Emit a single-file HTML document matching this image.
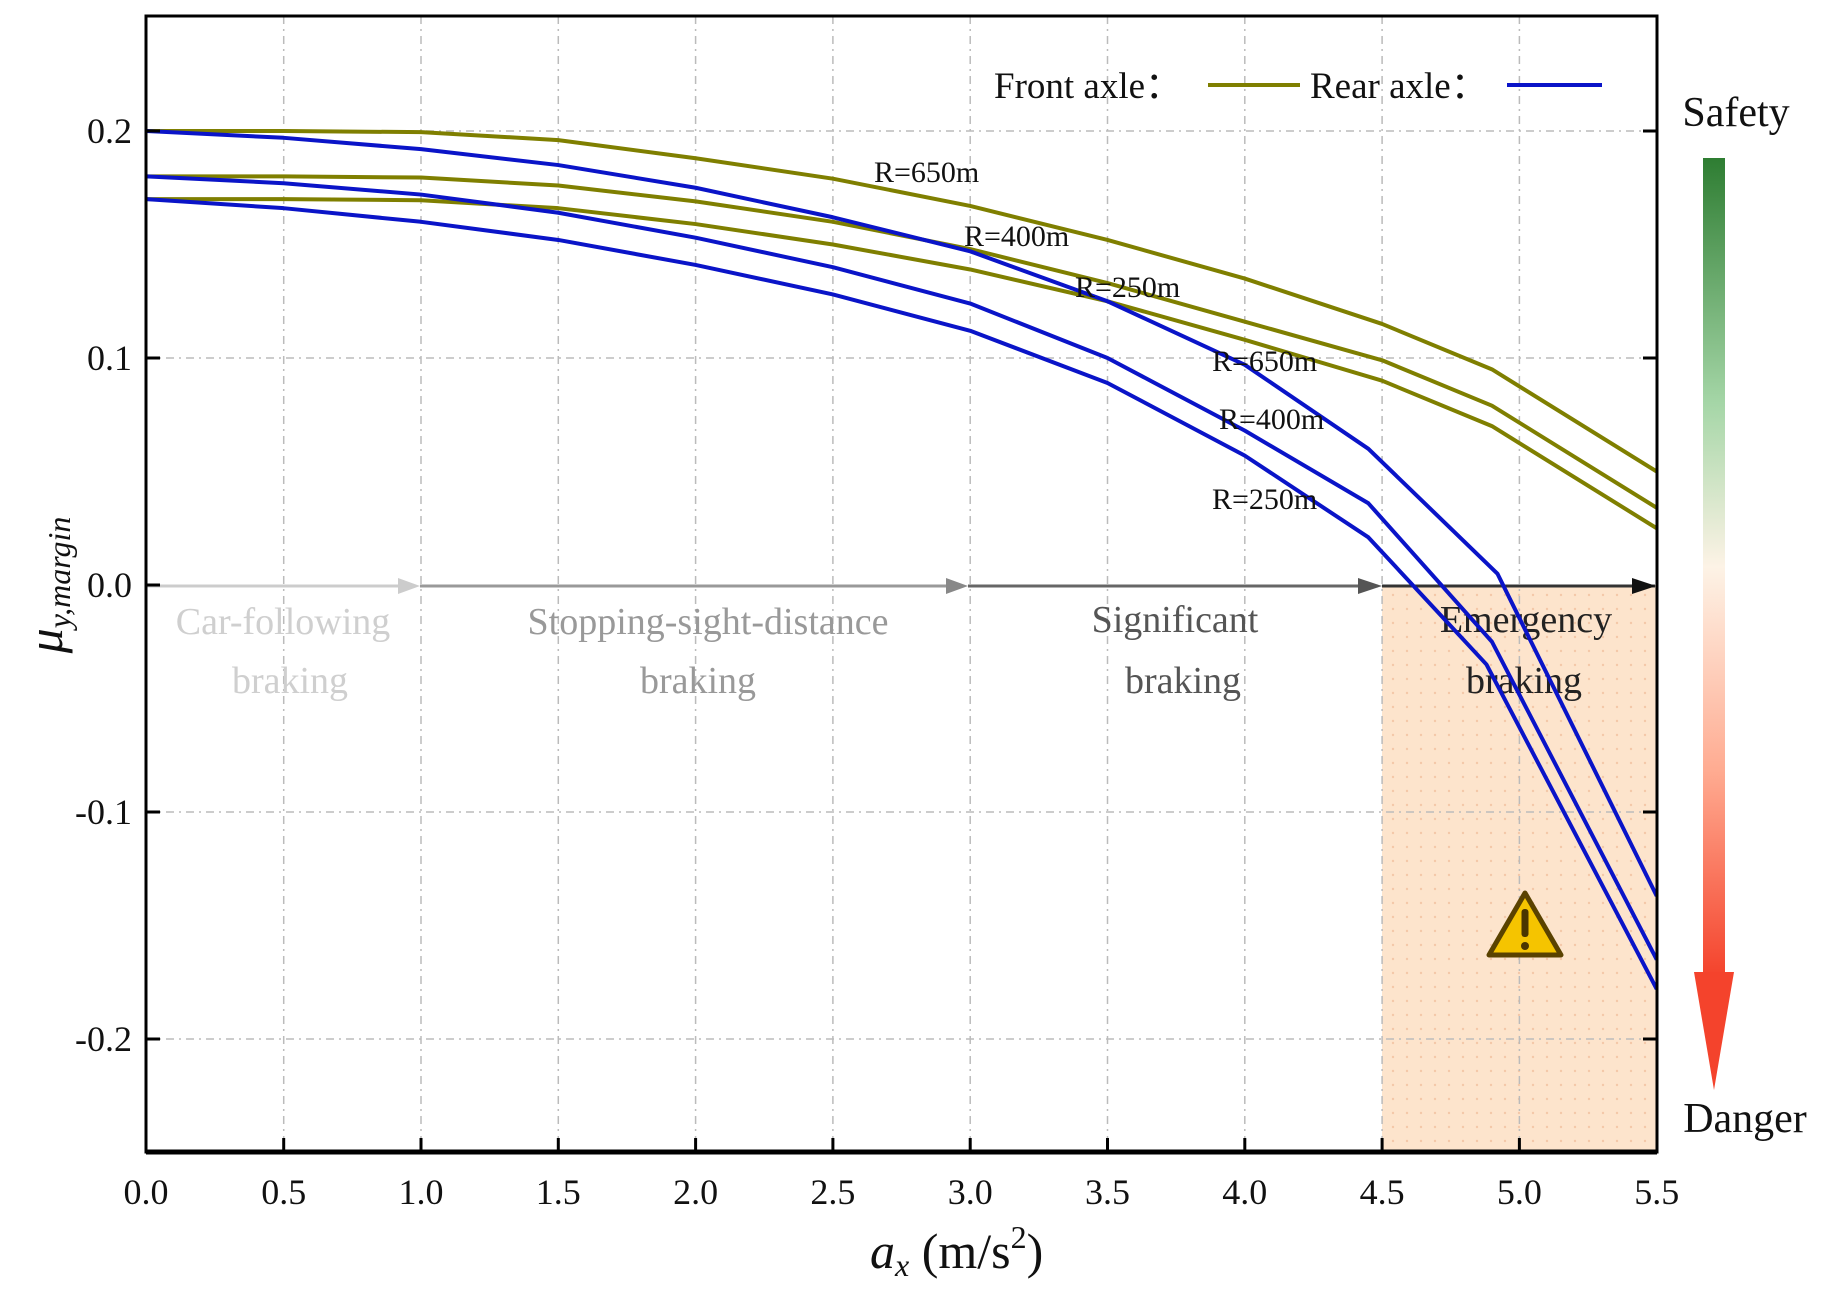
<!DOCTYPE html>
<html><head><meta charset="utf-8"><style>
html,body{margin:0;padding:0;background:#fff;}
svg{display:block;font-family:"Liberation Serif",serif;}
</style></head><body>
<svg width="1833" height="1302" viewBox="0 0 1833 1302" xmlns="http://www.w3.org/2000/svg">
<defs>
<pattern id="dots" width="14" height="14" patternUnits="userSpaceOnUse">
<rect width="14" height="14" fill="#fde4cc"/>
<circle cx="7" cy="7" r="1.2" fill="#f4c8a8"/>
</pattern>
<linearGradient id="sg" x1="0" y1="0" x2="0" y2="1">
<stop offset="0" stop-color="#2e7d32"/>
<stop offset="0.3" stop-color="#a5d6a7"/>
<stop offset="0.5" stop-color="#fdf3e6"/>
<stop offset="0.75" stop-color="#ffab91"/>
<stop offset="1" stop-color="#f4432c"/>
</linearGradient>
</defs>
<rect x="1382" y="585" width="274.6" height="567" fill="url(#dots)"/>
<g stroke="#bbb" stroke-width="1.5" stroke-dasharray="8,5,2,5">
<line x1="283.7" y1="16" x2="283.7" y2="1152"/>
<line x1="421" y1="16" x2="421" y2="1152"/>
<line x1="558.3" y1="16" x2="558.3" y2="1152"/>
<line x1="695.6" y1="16" x2="695.6" y2="1152"/>
<line x1="832.9" y1="16" x2="832.9" y2="1152"/>
<line x1="970.2" y1="16" x2="970.2" y2="1152"/>
<line x1="1107.5" y1="16" x2="1107.5" y2="1152"/>
<line x1="1244.8" y1="16" x2="1244.8" y2="1152"/>
<line x1="1382.1" y1="16" x2="1382.1" y2="1152"/>
<line x1="1519.4" y1="16" x2="1519.4" y2="1152"/>
<line x1="146" y1="131" x2="1657" y2="131"/>
<line x1="146" y1="358" x2="1657" y2="358"/>
<line x1="146" y1="812" x2="1657" y2="812"/>
<line x1="146" y1="1039" x2="1657" y2="1039"/>
</g>
<line x1="146" y1="586" x2="415" y2="586" stroke="#ccc" stroke-width="3"/>
<polygon points="398,578 420,586 398,594" fill="#ccc"/>
<line x1="420" y1="586" x2="964" y2="586" stroke="#999" stroke-width="3"/>
<polygon points="946,578 968,586 946,594" fill="#888"/>
<line x1="968" y1="586" x2="1378" y2="586" stroke="#666" stroke-width="3"/>
<polygon points="1358,578 1382,586 1358,594" fill="#555"/>
<line x1="1382" y1="586" x2="1655" y2="586" stroke="#333" stroke-width="3"/>
<polygon points="1632,578 1656,586 1632,594" fill="#111"/>
<g font-size="38" text-anchor="middle">
<text x="283" y="634" fill="#cfcfcf">Car-following</text>
<text x="290" y="693" fill="#cfcfcf">braking</text>
<text x="708" y="634" fill="#999">Stopping-sight-distance</text>
<text x="698" y="693" fill="#999">braking</text>
<text x="1175" y="632" fill="#555">Significant</text>
<text x="1183" y="693" fill="#555">braking</text>
<text x="1526" y="632" fill="#222">Emergency</text>
<text x="1524" y="693" fill="#222">braking</text>
</g>
<g transform="translate(146.4,585) scale(274.6,-2270)" fill="none" stroke-width="4" stroke-linejoin="round">
<g stroke="#7f7f00">
<polyline vector-effect="non-scaling-stroke" points="0,0.2 0.5,0.2 1,0.1995 1.5,0.196 2,0.188 2.5,0.179 3,0.167 3.5,0.152 4,0.135 4.5,0.115 4.9,0.095 5.5,0.05"/>
<polyline vector-effect="non-scaling-stroke" points="0,0.18 0.5,0.18 1,0.1795 1.5,0.176 2,0.169 2.5,0.16 3,0.148 3.5,0.133 4,0.116 4.5,0.099 4.9,0.079 5.5,0.034"/>
<polyline vector-effect="non-scaling-stroke" points="0,0.17 0.5,0.17 1,0.1695 1.5,0.166 2,0.159 2.5,0.15 3,0.139 3.5,0.125 4,0.108 4.5,0.09 4.9,0.07 5.5,0.025"/>
</g>
<g stroke="#0a14c8">
<polyline vector-effect="non-scaling-stroke" points="0,0.2 0.5,0.197 1,0.192 1.5,0.185 2,0.175 2.5,0.162 3,0.147 3.5,0.125 4,0.097 4.45,0.06 4.92,0.005 5.5,-0.137"/>
<polyline vector-effect="non-scaling-stroke" points="0,0.18 0.5,0.177 1,0.172 1.5,0.164 2,0.153 2.5,0.14 3,0.124 3.5,0.1 4,0.068 4.45,0.036 4.9,-0.025 5.5,-0.165"/>
<polyline vector-effect="non-scaling-stroke" points="0,0.17 0.5,0.166 1,0.16 1.5,0.152 2,0.141 2.5,0.128 3,0.112 3.5,0.089 4,0.057 4.45,0.021 4.88,-0.035 5.5,-0.178"/>
</g>
</g>
<g font-size="30" fill="#111">
<text x="874" y="182">R=650m</text>
<text x="964" y="246">R=400m</text>
<text x="1075" y="297">R=250m</text>
<text x="1212" y="371">R=650m</text>
<text x="1219" y="429">R=400m</text>
<text x="1212" y="509">R=250m</text>
</g>
<g transform="translate(1525,925)">
<polygon points="0,-32 36,30 -36,30" fill="#f5c400" stroke="#5a4200" stroke-width="5" stroke-linejoin="round"/>
<rect x="-3.5" y="-16" width="7" height="28" rx="3" fill="#4a3500"/>
<circle cx="0" cy="21" r="4" fill="#4a3500"/>
</g>
<rect x="146" y="16" width="1511" height="1136" fill="none" stroke="#000" stroke-width="3"/>
<line x1="146" y1="1152" x2="1657" y2="1152" stroke="#000" stroke-width="5"/>
<g stroke="#000" stroke-width="3">
<line x1="283.7" y1="1152" x2="283.7" y2="1138"/><line x1="421" y1="1152" x2="421" y2="1138"/>
<line x1="558.3" y1="1152" x2="558.3" y2="1138"/><line x1="695.6" y1="1152" x2="695.6" y2="1138"/>
<line x1="832.9" y1="1152" x2="832.9" y2="1138"/><line x1="970.2" y1="1152" x2="970.2" y2="1138"/>
<line x1="1107.5" y1="1152" x2="1107.5" y2="1138"/><line x1="1244.8" y1="1152" x2="1244.8" y2="1138"/>
<line x1="1382.1" y1="1152" x2="1382.1" y2="1138"/><line x1="1519.4" y1="1152" x2="1519.4" y2="1138"/>
<line x1="146" y1="131" x2="160" y2="131"/><line x1="146" y1="358" x2="160" y2="358"/>
<line x1="146" y1="585" x2="160" y2="585"/><line x1="146" y1="812" x2="160" y2="812"/><line x1="146" y1="1039" x2="160" y2="1039"/>
<line x1="1657" y1="131" x2="1643" y2="131"/><line x1="1657" y1="358" x2="1643" y2="358"/>
<line x1="1657" y1="812" x2="1643" y2="812"/><line x1="1657" y1="1039" x2="1643" y2="1039"/>
</g>
<g font-size="36" fill="#111" text-anchor="end">
<text x="132" y="143">0.2</text>
<text x="132" y="370">0.1</text>
<text x="132" y="597">0.0</text>
<text x="132" y="824">-0.1</text>
<text x="132" y="1051">-0.2</text>
</g>
<g font-size="36" fill="#111" text-anchor="middle">
<text x="146" y="1204">0.0</text><text x="283.7" y="1204">0.5</text><text x="421" y="1204">1.0</text>
<text x="558.3" y="1204">1.5</text><text x="695.6" y="1204">2.0</text><text x="832.9" y="1204">2.5</text>
<text x="970.2" y="1204">3.0</text><text x="1107.5" y="1204">3.5</text><text x="1244.8" y="1204">4.0</text>
<text x="1382.1" y="1204">4.5</text><text x="1519.4" y="1204">5.0</text><text x="1656.7" y="1204">5.5</text>
</g>
<text x="870" y="1268" font-size="50" fill="#111"><tspan font-style="italic">a</tspan><tspan font-style="italic" font-size="32" dy="8">x</tspan><tspan dy="-8"> (m/s</tspan><tspan font-size="32" dy="-20">2</tspan><tspan dy="20">)</tspan></text>
<text transform="translate(62,585) rotate(-90)" text-anchor="middle" font-size="50" fill="#111"><tspan font-style="italic">μ</tspan><tspan font-style="italic" font-size="32" dy="8">y,margin</tspan></text>
<text x="994" y="98" font-size="37" fill="#111">Front axle：</text>
<line x1="1208" y1="85" x2="1300" y2="85" stroke="#7f7f00" stroke-width="4"/>
<text x="1310" y="98" font-size="37" fill="#111">Rear axle：</text>
<line x1="1507" y1="85" x2="1602" y2="85" stroke="#0a14c8" stroke-width="4"/>
<text x="1736" y="126" font-size="42" fill="#111" text-anchor="middle">Safety</text>
<rect x="1703" y="158" width="22" height="818" fill="url(#sg)"/>
<polygon points="1694,972 1734,972 1714,1090" fill="#f4432c"/>
<text x="1745" y="1132" font-size="42" fill="#111" text-anchor="middle">Danger</text>
</svg>
</body></html>
